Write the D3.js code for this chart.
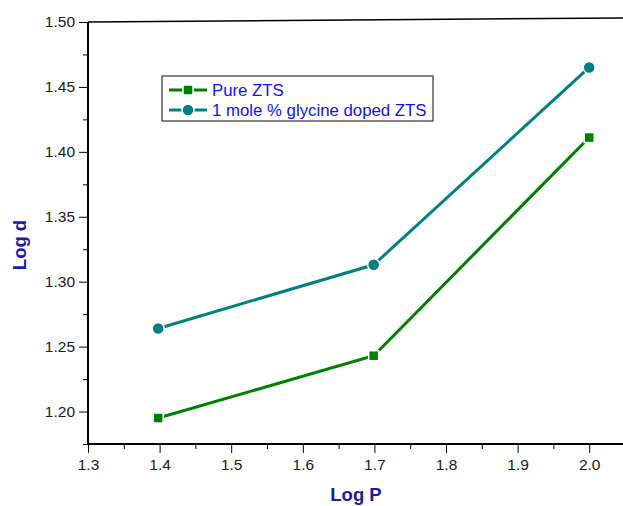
<!DOCTYPE html>
<html>
<head>
<meta charset="utf-8">
<script src="https://cdn.jsdelivr.net/npm/d3@7"></script>
<style>
  body { margin: 0; background: #fff; }
  svg { display: block; font-family: "Liberation Sans", Arial, sans-serif; }
</style>
</head>
<body>
<div id="chart"></div>
<script>
const LOG_P = [1.398, 1.699, 2.0];
const PURE = [1.195, 1.243, 1.411];
const DOPED = [1.264, 1.313, 1.465];
const SERIES_NAMES = ["Pure ZTS", "1 mole % glycine doped ZTS"];
const X_TICKS = [1.3, 1.4, 1.5, 1.6, 1.7, 1.8, 1.9, 2.0];
const Y_TICKS = [1.20, 1.25, 1.30, 1.35, 1.40, 1.45, 1.50];

const W = 623, H = 506;

const svg = d3.select("#chart")
    .append("svg")
        .attr("width", W)
        .attr("height", H);

// SCALES
const x = d3.scaleLinear().domain([1.3, 2.05]).range([88, 625]);
const y = d3.scaleLinear().domain([1.175, 1.50]).range([444, 22]);

// X AXIS
const xMinor = d3.range(1.35, 2.05, 0.1);
svg.append("g")
    .attr("transform", `translate(0, ${y(1.175)})`)
    .call(d3.axisBottom(x).tickValues(xMinor).tickSize(5).tickFormat(""))
    .call(g => g.select(".domain").remove());
svg.append("g")
    .attr("transform", `translate(0, ${y(1.175)})`)
    .call(d3.axisBottom(x).tickValues(X_TICKS).tickSize(9).tickSizeOuter(0).tickPadding(6).tickFormat(d3.format(".1f")))
    .call(g => g.select(".domain").attr("stroke-width", 2).attr("d", `M${x(1.3)},0H${W}`))
    .call(g => g.selectAll("text").attr("font-size", "15.5px").attr("fill", "#1a1a1a").attr("font-family", "Liberation Sans, Arial, sans-serif"));

// Y AXIS
const yMinor = d3.range(1.175, 1.5, 0.05);
svg.append("g")
    .attr("transform", `translate(${x(1.3)}, 0)`)
    .call(d3.axisLeft(y).tickValues(yMinor).tickSize(5).tickFormat(""))
    .call(g => g.select(".domain").remove());
svg.append("g")
    .attr("transform", `translate(${x(1.3)}, 0)`)
    .call(d3.axisLeft(y).tickValues(Y_TICKS).tickSize(9).tickSizeOuter(0).tickPadding(4).tickFormat(d3.format(".2f")))
    .call(g => g.select(".domain").attr("stroke-width", 2).attr("d", `M0,${y(1.5)}V${y(1.175)}`))
    .call(g => g.selectAll("text").attr("font-size", "15.5px").attr("fill", "#1a1a1a").attr("font-family", "Liberation Sans, Arial, sans-serif"));

// top frame line
svg.append("line")
    .attr("x1", x(1.3)).attr("y1", y(1.5))
    .attr("x2", W).attr("y2", y(1.5) - 4)
    .attr("stroke", "#000")
    .attr("stroke-width", 1.5);

// AXIS TITLES
svg.append("text")
    .attr("x", 356)
    .attr("y", 501)
    .attr("text-anchor", "middle")
    .attr("font-size", "18.5px")
    .attr("font-weight", "bold")
    .attr("fill", "#1a1aa6")
    .text("Log P");
svg.append("text")
    .attr("transform", "translate(26, 245) rotate(-90)")
    .attr("text-anchor", "middle")
    .attr("font-size", "18.5px")
    .attr("font-weight", "bold")
    .attr("fill", "#1a1aa6")
    .text("Log d");

// DATA
const series = [
    { name: SERIES_NAMES[0], values: PURE, color: "#008000", shape: "square" },
    { name: SERIES_NAMES[1], values: DOPED, color: "#008080", shape: "circle" }
];

const line = d3.line()
    .x(d => x(d[0]))
    .y(d => y(d[1]));

function drawMarker(g, cx, cy, s) {
    if (s.shape === "square") {
        g.append("rect")
            .attr("x", cx - 5).attr("y", cy - 5)
            .attr("width", 10).attr("height", 10)
            .attr("fill", s.color)
            .attr("stroke", "#fff").attr("stroke-width", 1.5);
    } else {
        g.append("circle")
            .attr("cx", cx).attr("cy", cy).attr("r", 6)
            .attr("fill", s.color)
            .attr("stroke", "#fff").attr("stroke-width", 1.5);
    }
}

series.forEach(s => {
    const pts = LOG_P.map((p, i) => [p, s.values[i]]);
    svg.append("path")
        .datum(pts)
        .attr("d", line)
        .attr("fill", "none")
        .attr("stroke", s.color)
        .attr("stroke-width", 3);
    const mg = svg.append("g");
    pts.forEach(d => drawMarker(mg, x(d[0]), y(d[1]), s));
});

// LEGEND
const legend = svg.append("g");
legend.append("rect")
    .attr("x", 162).attr("y", 76)
    .attr("width", 271).attr("height", 45)
    .attr("fill", "#fff")
    .attr("stroke", "#333")
    .attr("stroke-width", 1.2);
series.forEach((s, i) => {
    const cy = 90 + i * 20;
    legend.append("line")
        .attr("x1", 169).attr("x2", 207)
        .attr("y1", cy).attr("y2", cy)
        .attr("stroke", s.color)
        .attr("stroke-width", 3);
    drawMarker(legend, 188, cy, s);
    legend.append("text")
        .attr("x", 212)
        .attr("y", cy + 6)
        .attr("font-size", "16.8px")
        .attr("fill", "#1010ff")
        .text(s.name);
});
</script>
</body>
</html>
